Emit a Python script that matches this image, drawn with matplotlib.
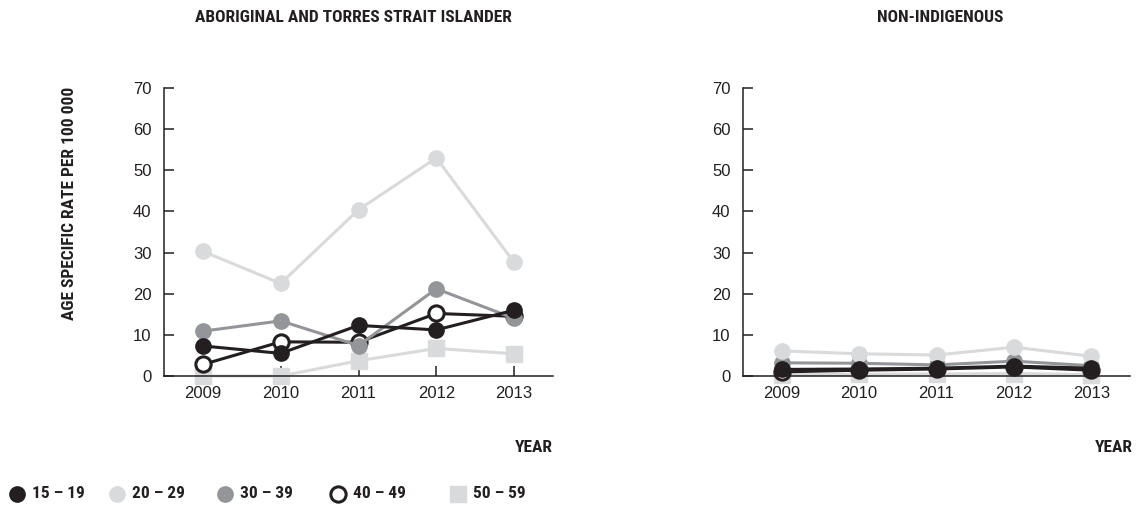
import matplotlib.pyplot as plt
from matplotlib.lines import Line2D

plt.rcParams['font.family'] = ['Liberation Sans', 'DejaVu Sans']
bold_font = ['Roboto Condensed', 'Archivo Narrow', 'Liberation Sans Narrow', 'Liberation Sans']

years = [2009, 2010, 2011, 2012, 2013]
groups = ['15 – 19', '20 – 29', '30 – 39', '40 – 49', '50 – 59']

# age specific rate per 100 000, Aboriginal and Torres Strait Islander
indig_15_19 = [7.3, 5.5, 12.3, 11.2, 16.0]
indig_20_29 = [30.3, 22.5, 40.4, 53.0, 27.6]
indig_30_39 = [10.9, 13.4, 7.4, 21.2, 14.0]
indig_40_49 = [2.8, 8.3, 8.2, 15.2, 14.5]
indig_50_59 = [0.0, 0.0, 3.7, 6.7, 5.4]

# non-Indigenous
non_15_19 = [1.6, 1.7, 1.9, 2.4, 1.9]
non_20_29 = [6.1, 5.4, 5.1, 7.0, 4.8]
non_30_39 = [3.2, 3.1, 2.7, 3.6, 2.5]
non_40_49 = [1.0, 1.4, 1.7, 2.2, 1.4]
non_50_59 = [0.3, 0.4, 0.5, 0.6, 0.3]

black = '#231f20'
light = '#d9dadb'
mid = '#939598'

styles = [
    dict(color=black, marker='o', mfc=black, mec=black),
    dict(color=light, marker='o', mfc=light, mec=light),
    dict(color=mid, marker='o', mfc=mid, mec=mid),
    dict(color=black, marker='o', mfc='white', mec=black, mew=2.2),
    dict(color=light, marker='s', mfc=light, mec=light),
]

W, H = 1137, 507
fig = plt.figure(figsize=(W / 100, H / 100), dpi=100)
ax1 = fig.add_axes([164/W, 1-376/H, 389/W, 288/H])
ax2 = fig.add_axes([743/W, 1-376/H, 387/W, 288/H])

panels = [
    (ax1, [indig_15_19, indig_20_29, indig_30_39, indig_40_49, indig_50_59]),
    (ax2, [non_15_19, non_20_29, non_30_39, non_40_49, non_50_59]),
]

for ax, series in panels:
    # oldest group first so the younger ones sit on top
    for vals, st in reversed(list(zip(series, styles))):
        ax.plot(years, vals, lw=2.2, ms=11, clip_on=False, **st)
    ax.set_xlim(2008.5, 2013.5)
    ax.set_ylim(0, 70)
    ax.set_xticks(years)
    ax.set_yticks(range(0, 71, 10))
    ax.spines['top'].set_visible(False)
    ax.spines['right'].set_visible(False)
    for s in ['left', 'bottom']:
        ax.spines[s].set_color(black)
        ax.spines[s].set_linewidth(1.1)
    ax.tick_params(direction='in', length=7, width=1.1, color=black,
                   labelsize=12, labelcolor=black, pad=7)
    ax.tick_params(axis='y', pad=9)


def bold_text(x, y, s, **kw):
    fig.text(x / W, 1 - y / H, s, family=bold_font, fontweight='bold',
             fontsize=12.5, color=black, **kw)


bold_text(353, 18, 'ABORIGINAL AND TORRES STRAIT ISLANDER', ha='center', va='center')
bold_text(940, 18, 'NON-INDIGENOUS', ha='center', va='center')
bold_text(70, 203, 'AGE SPECIFIC RATE PER 100 000', rotation=90, ha='center', va='center')
bold_text(553, 447, 'YEAR', ha='right', va='center')
bold_text(1133, 447, 'YEAR', ha='right', va='center')

# legend row along the bottom
legend_x = [17, 117, 225, 338, 458]
for gx, label, st in zip(legend_x, groups, styles):
    mk = {k: v for k, v in st.items() if k != 'color'}
    fig.add_artist(Line2D([gx / W], [1 - 494 / H], ls='none', ms=11,
                          transform=fig.transFigure, **mk))
    bold_text(gx + 15, 494, label, ha='left', va='center')

fig.savefig('out.png', dpi=100)
